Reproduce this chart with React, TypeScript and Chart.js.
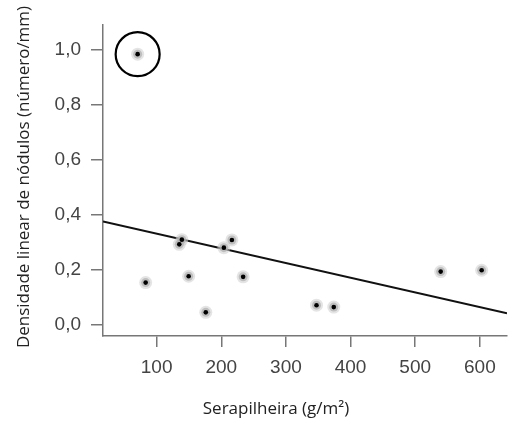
import React, { useEffect, useRef } from "react";
import { Chart, registerables } from "chart.js";

Chart.register(...registerables);

const serapilheira = [70.6, 83, 135, 139, 149.5, 176, 204, 216.4, 233.8, 347.3, 374, 539.4, 602.8];
const densidade = [0.984, 0.154, 0.293, 0.31, 0.177, 0.046, 0.281, 0.309, 0.175, 0.072, 0.065, 0.194, 0.199];
const outlierIndex = 0;
const regressionX = [17, 642];
const regressionY = [0.376, 0.043];
const xTicks = [100, 200, 300, 400, 500, 600];
const yTicks = [0, 0.2, 0.4, 0.6, 0.8, 1.0];
const xTitle = "Serapilheira (g/m²)";
const yTitle = "Densidade linear de nódulos (número/mm)";

const points = serapilheira.map((x, i) => ({ x, y: densidade[i] }));

const titlePlugin = {
  id: "axisTitles",
  afterDraw(chart: any) {
    const ctx = chart.ctx;
    ctx.save();
    ctx.fillStyle = "#222";
    ctx.font = "17px 'Open Sans'";
    ctx.textAlign = "center";
    ctx.textBaseline = "middle";
    ctx.fillText(xTitle, 276, 409);
    ctx.translate(24, 177);
    ctx.rotate(-Math.PI / 2);
    ctx.fillText(yTitle, 0, 0);
    ctx.restore();
  },
};

export default function App() {
  const ref = useRef<HTMLCanvasElement>(null);
  useEffect(() => {
    const chart = new Chart(ref.current!, {
      type: "scatter",
      data: {
        datasets: [
          {
            type: "line",
            data: regressionX.map((x, i) => ({ x, y: regressionY[i] })),
            borderColor: "#111",
            borderWidth: 2,
            pointRadius: 0,
            order: 4,
          },
          {
            data: points,
            pointRadius: 6.5,
            pointBackgroundColor: "rgba(205,205,205,0.55)",
            pointBorderWidth: 0,
            order: 3,
          },
          {
            data: points,
            pointRadius: 4.5,
            pointBackgroundColor: "rgba(175,175,175,0.7)",
            pointBorderWidth: 0,
            order: 2,
          },
          {
            data: points,
            pointRadius: 2.3,
            pointBackgroundColor: "#000",
            pointBorderWidth: 0,
            order: 1,
          },
          {
            data: [points[outlierIndex]],
            pointRadius: 22,
            pointBackgroundColor: "rgba(0,0,0,0)",
            pointBorderColor: "#000",
            pointBorderWidth: 2.2,
            clip: false,
            order: 0,
          } as any,
        ],
      },
      options: {
        animation: false,
        responsive: false,
        layout: { autoPadding: false, padding: { top: 25, right: 2, left: 0, bottom: 0 } },
        plugins: { legend: { display: false }, tooltip: { enabled: false } },
        scales: {
          x: {
            type: "linear",
            min: 17,
            max: 642,
            afterBuildTicks: (s: any) => {
              s.ticks = xTicks.map((v) => ({ value: v }));
            },
            afterFit: (s: any) => {
              s.height = 85;
              s.paddingLeft = 0;
              s.paddingRight = 0;
            },
            grid: { drawOnChartArea: false, drawTicks: true, tickLength: 11, color: "#777", lineWidth: 1.5 },
            border: { color: "#777", width: 1.5 },
            ticks: { color: "#444", font: { family: "'Liberation Sans'", size: 19 }, padding: 9, maxRotation: 0 },
          },
          y: {
            type: "linear",
            min: -0.04,
            max: 1.09,
            afterBuildTicks: (s: any) => {
              s.ticks = yTicks.map((v) => ({ value: v }));
            },
            afterFit: (s: any) => {
              s.width = 103;
              s.paddingTop = 0;
              s.paddingBottom = 0;
            },
            grid: { drawOnChartArea: false, drawTicks: true, tickLength: 12, color: "#777", lineWidth: 1.5 },
            border: { color: "#777", width: 1.5 },
            ticks: {
              color: "#444",
              font: { family: "'Liberation Sans'", size: 19 },
              padding: 10,
              callback: (v: any) => Number(v).toFixed(1).replace(".", ","),
            },
          },
        },
      },
      plugins: [titlePlugin],
    });
    return () => chart.destroy();
  }, []);
  return (
    <div style={{ position: "fixed", left: 0, top: 0, width: 509, height: 421, background: "#fff" }}>
      <canvas ref={ref} width={509} height={421} />
    </div>
  );
}
